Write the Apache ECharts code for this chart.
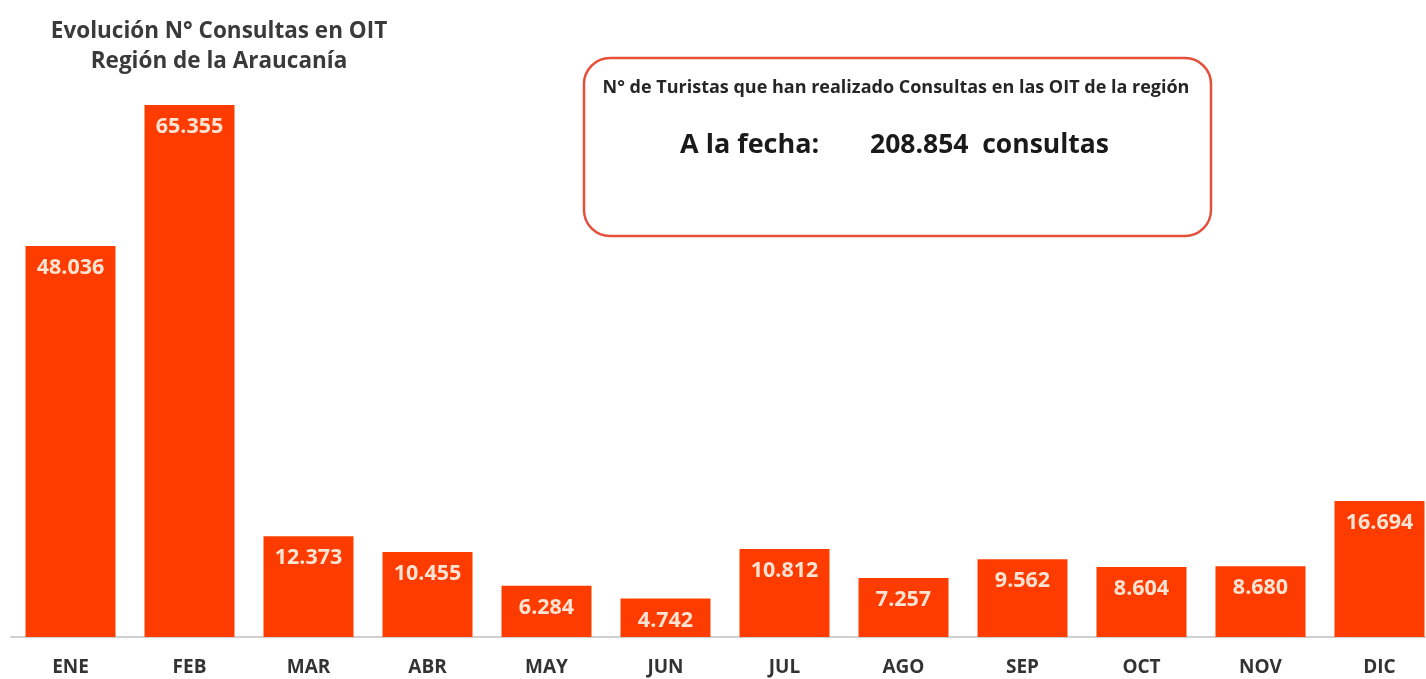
<!DOCTYPE html>
<html>
<head>
<meta charset="utf-8">
<script src="https://cdn.jsdelivr.net/npm/echarts@6/dist/echarts.min.js"></script>
<style>
  html, body { margin: 0; padding: 0; background: #fff; }
  #main { width: 1426px; height: 679px; }
</style>
</head>
<body>
<div id="main"></div>
<script>
// meses y consultas por mes
var months = ['ENE', 'FEB', 'MAR', 'ABR', 'MAY', 'JUN', 'JUL', 'AGO', 'SEP', 'OCT', 'NOV', 'DIC'];
var consultas = [48036, 65355, 12373, 10455, 6284, 4742, 10812, 7257, 9562, 8604, 8680, 16694];
var totalTexto = '208.854';

var fontName = '"Open Sans", Lato, sans-serif';

function fmt(v) {
  // separador de miles con punto
  return String(v).replace(/\B(?=(\d{3})+(?!\d))/g, '.');
}

var chart = echarts.init(document.getElementById('main'));

var option = {
  backgroundColor: '#fff',
  animation: false,
  title: {
    text: 'Evolución N° Consultas en OIT\nRegión de la Araucanía',
    left: 214,
    top: 12,
    textAlign: 'center',
    textStyle: {
      fontFamily: fontName,
      fontSize: 22.5,
      fontWeight: 'bold',
      color: '#3a3a3a',
      lineHeight: 30,
      align: 'center'
    }
  },
  grid: {
    left: 11,
    right: -13,
    top: 105,
    bottom: 42,
    outerBoundsMode: 'none',
    containLabel: false
  },
  xAxis: {
    type: 'category',
    data: months,
    axisTick: { show: false },
    axisLine: { lineStyle: { color: '#d0d0d0', width: 2 } },
    axisLabel: {
      margin: 21,
      fontFamily: fontName,
      fontSize: 19,
      fontWeight: 'bold',
      color: '#333'
    }
  },
  yAxis: {
    type: 'value',
    min: 0,
    max: 'dataMax',
    show: false,
    splitLine: { show: false }
  },
  series: [{
    type: 'bar',
    data: consultas,
    barWidth: 90,
    itemStyle: { color: '#ff3c00' },
    label: {
      show: true,
      position: 'insideTop',
      distance: 11,
      fontFamily: fontName,
      fontSize: 21.5,
      fontWeight: 'bold',
      color: '#fde3d3',
      formatter: function (p) { return fmt(p.value); }
    }
  }],
  graphic: [
    {
      type: 'rect',
      shape: { x: 584, y: 58, width: 627, height: 178, r: 26 },
      style: { fill: '#fff', stroke: '#e5503a', lineWidth: 2.5 }
    },
    {
      type: 'text',
      x: 896, y: 88,
      style: {
        text: 'N° de Turistas que han realizado Consultas en las OIT de la región',
        fontFamily: fontName, fontSize: 18, fontWeight: 'bold',
        fill: '#262626', align: 'center', verticalAlign: 'middle'
      }
    },
    {
      type: 'text',
      x: 680, y: 145,
      style: {
        text: 'A la fecha:',
        fontFamily: fontName, fontSize: 27, fontWeight: 'bold',
        fill: '#1a1a1a', align: 'left', verticalAlign: 'middle'
      }
    },
    {
      type: 'text',
      x: 870, y: 145,
      style: {
        text: totalTexto + '  consultas',
        fontFamily: fontName, fontSize: 26.5, fontWeight: 'bold',
        fill: '#1a1a1a', align: 'left', verticalAlign: 'middle'
      }
    }
  ]
};

chart.setOption(option);
</script>
</body>
</html>
